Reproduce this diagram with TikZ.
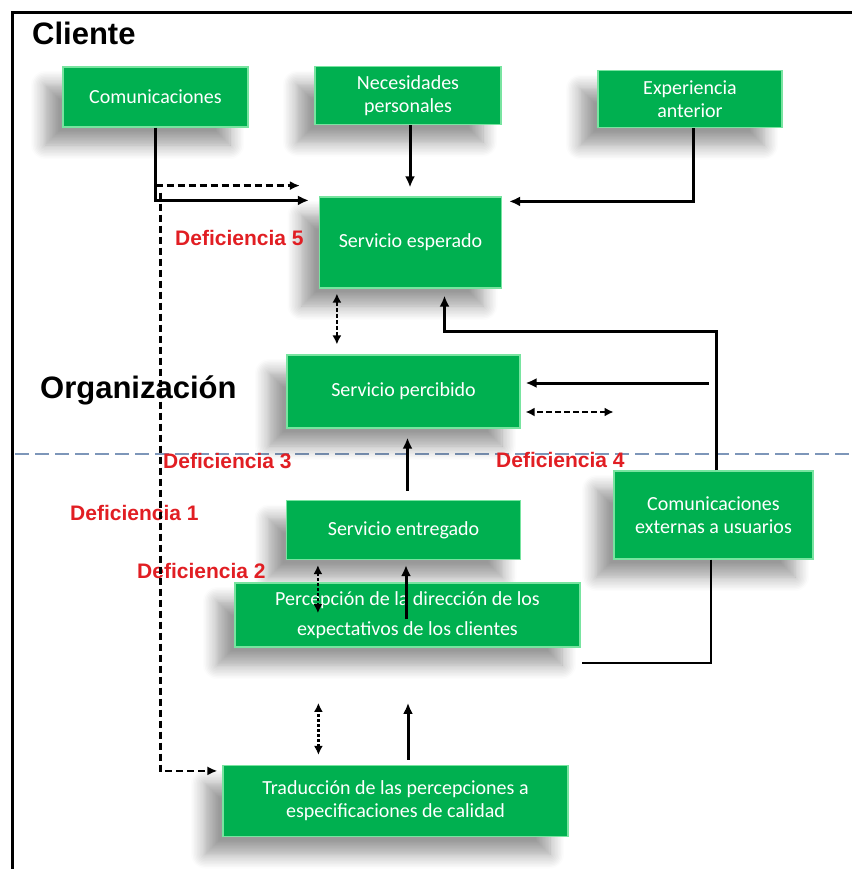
\documentclass[tikz,border=0pt]{standalone}
\usepackage{fontspec}
\setmainfont{Liberation Sans}
\newfontfamily\boxfont{Carlito}
\usepackage{tikz}
\usetikzlibrary{calc, arrows.meta, shadows.blur}
\definecolor{boxgreen}{RGB}{0,176,80}
\definecolor{boxrim}{RGB}{120,228,160}
\definecolor{gapred}{RGB}{225,30,35}
\definecolor{splitblue}{RGB}{125,150,185}

\begin{document}
\begin{tikzpicture}[x=1pt, y=-1pt,
	box/.style={rectangle, fill=boxgreen, draw=boxrim, line width=1.2pt, text=white, align=center, inner sep=2pt,
		font=\boxfont\fontsize{20}{23}\selectfont,
		blur shadow={shadow xshift=-18pt, shadow yshift=-18pt, shadow blur radius=14pt, shadow blur steps=10, shadow opacity=40}},
	gap/.style={text=gapred, font=\bfseries\fontsize{21}{24}\selectfont, anchor=base west, inner sep=0pt},
	title/.style={font=\bfseries\fontsize{31}{36}\selectfont, anchor=base west, inner sep=0pt},
	flow/.style={line width=3pt, -{Latex[length=11pt, width=10pt]}},
	link/.style={line width=2.6pt, dash pattern=on 7pt off 4pt, -{Latex[length=10pt, width=9pt]}},
	both/.style={line width=2.4pt, dash pattern=on 3pt off 2pt, {Latex[length=9pt, width=9pt]}-{Latex[length=9pt, width=9pt]}},
	]
	\useasboundingbox (0,0) rectangle (852,869);
	\draw[line width=3pt] (12,869) -- (12,13) -- (852,13);
	\draw[splitblue, line width=1.6pt, dash pattern=on 14pt off 6pt] (15,454) -- (852,454);

	\node[title] (Cli) at (32,45) {Cliente};
	\node[title] (Org) at (40,398) {Organización};

	\node[box, minimum width=185pt, minimum height=60pt] (Com) at (155.5,97) {Comunicaciones};
	\node[box, minimum width=186pt, minimum height=58pt] (Nec) at (408,95.5) {Necesidades\\personales};
	\node[box, minimum width=184pt, minimum height=57pt] (Exp) at (690,99) {Experiencia\\anterior};
	\node[box, minimum width=182pt, minimum height=91pt] (Esp) at (410.5,242.5) {Servicio esperado};
	\node[box, minimum width=233pt, minimum height=73pt] (Perc) at (403.5,391.5) {Servicio percibido};
	\node[box, minimum width=234pt, minimum height=59pt] (Ent) at (403.5,530) {Servicio entregado};
	\node[box, minimum width=199pt, minimum height=88pt] (Ext) at (713.5,515) {Comunicaciones\\externas a usuarios};
	\node[box, minimum width=345pt, minimum height=64pt, font=\boxfont\fontsize{20}{30}\selectfont] (Dir) at (407.5,615) {Percepción de la dirección de los\\expectativos de los clientes};
	\node[box, minimum width=345pt, minimum height=71pt] (Trad) at (395.5,801) {Traducción de las percepciones a\\especificaciones de calidad};

	\node[gap] (Def5) at (175,245) {Deficiencia 5};
	\node[gap] (Def3) at (163,468) {Deficiencia 3};
	\node[gap] (Def4) at (496,467) {Deficiencia 4};
	\node[gap] (Def1) at (70,520) {Deficiencia 1};
	\node[gap] (Def2) at (137,578) {Deficiencia 2};

	\coordinate (Tap5) at ($(Com.south)+(0,58)$);
	\coordinate (Tap1) at ($(Com.south)+(5,65)$);
	\coordinate (Back) at ($(Esp.south)+(34,43)$);
	\coordinate (Out4) at ($(Perc.east)+(188,-8.5)$);
	\coordinate (Gap4) at ($(Perc.east)+(93,20.5)$);

	\draw[flow, shorten >=10pt] (Com.south) |- ($(Esp.north west)+(0,4)$);
	\draw[link, shorten >=19pt] (Tap5) -- (Tap5 -| Esp.west);
	\draw[link, shorten >=5pt] (Tap1) |- ($(Trad.north west)+(0,6)$);
	\draw[flow, shorten >=9pt] ([xshift=2pt]Nec.south) -- ([xshift=2pt]Nec.south |- Esp.north);
	\draw[flow, shorten >=7pt] ([xshift=3pt]Exp.south) |- ($(Esp.north east)+(0,5)$);
	\draw[both, line width=1.6pt, dash pattern=on 4pt off 2pt, shorten <=5pt, shorten >=10pt] ([xshift=18pt]Esp.south west) -- ([xshift=18pt]Esp.south west |- Perc.north);
	\draw[flow, shorten >=7pt] ([xshift=2.5pt]Ext.north) |- (Back) -- (Back |- Esp.south);
	\draw[flow, shorten >=5pt] (Out4) -- (Out4 -| Perc.east);
	\draw[both, dash pattern=on 6pt off 3pt, shorten >=5pt] (Gap4) -- (Gap4 -| Perc.east);
	\draw[flow, shorten <=9pt, shorten >=9pt] ([xshift=4pt]Ent.north) -- ([xshift=4pt]Perc.south);
	\draw[both, shorten <=5pt] ([xshift=32pt]Ent.south west) -- ($(Ent.south west)+(32,53)$);
	\draw[flow, shorten >=5pt] ($(Dir.north)+(-1.5,37)$) -- ($(Ent.south)+(2.5,0)$);
	\draw[line width=2pt] ([xshift=-2.5pt]Ext.south) |- ($(Dir.south east)+(1,15)$);
	\draw[both] ($(Trad.north west)+(96,-10)$) -- ($(Trad.north west)+(96,-62)$);
	\draw[flow] ($(Trad.north)+(12.5,-5)$) -- ($(Trad.north)+(12.5,-62)$);
\end{tikzpicture}
\end{document}
